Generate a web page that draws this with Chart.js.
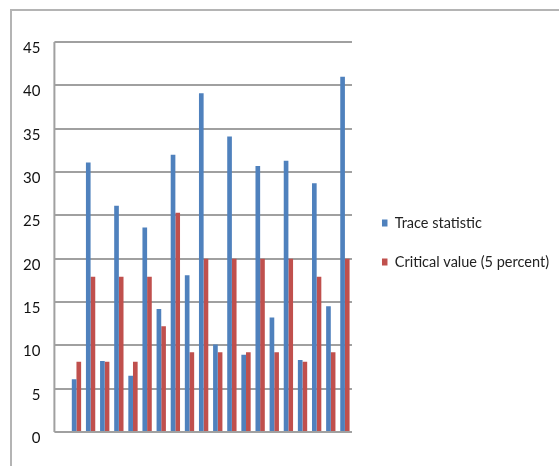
<!DOCTYPE html>
<html>
<head>
<meta charset="utf-8">
<script src="https://cdn.jsdelivr.net/npm/chart.js@4"></script>
<style>
  html, body { margin: 0; padding: 0; background: #fff; }
  #wrap { position: relative; width: 559px; height: 466px; overflow: hidden; }
  #frame { position: absolute; left: 10px; top: 9px; width: 600px; height: 500px; border: 2px solid #b4b4b4; box-sizing: border-box; }
  canvas { position: absolute; left: 0; top: 0; }
</style>
</head>
<body>
<div id="wrap">
  <div id="frame"></div>
  <canvas id="chart" width="559" height="466"></canvas>
</div>
<script>
  // series
  const categories = ['1','2','3','4','5','6','7','8','9','10','11','12','13','14','15','16','17','18','19','20'];
  const traceStatistic = [6.1, 31.1, 8.2, 26.1, 6.5, 23.6, 14.2, 32.0, 18.1, 39.1, 10.1, 34.1, 8.9, 30.7, 13.2, 31.3, 8.3, 28.7, 14.5, 41.0];
  const criticalValue  = [8.1, 17.9, 8.1, 17.9, 8.1, 17.9, 12.2, 25.3, 9.2, 20.0, 9.2, 20.0, 9.2, 20.0, 9.2, 20.0, 8.1, 17.9, 9.2, 20.0];
  const seriesNames = ['Trace statistic', 'Critical value (5 percent)'];
  const yTicks = { min: 0, max: 45, step: 5 };

  const GRID = '#a0a0a0';
  const FONT = "Lato, 'Open Sans', sans-serif";
  const LEG_SIZE = 14.5, LEG_PAD = 24.5, LEG_BOX = 5.5;
  const LEG_LEFT = 359.5;   // where the legend block should start

  // vertical legend width = padding + box + half font + longest text + 10 (Chart.js adds 10)
  const mctx = document.createElement('canvas').getContext('2d');
  mctx.font = `${LEG_SIZE}px ${FONT}`;
  const longest = Math.max(...seriesNames.map(t => mctx.measureText(t).width));
  const legendW = LEG_PAD + LEG_BOX + LEG_SIZE / 2 + longest + 10;
  const padRight = Math.max(0, 559 - LEG_LEFT - legendW);

  // left axis line sits at the outer end of the extended gridlines
  const axisLine = {
    id: 'axisLine',
    beforeDatasetsDraw(chart) {
      const y = chart.scales.y;
      const x = chart.chartArea.left - y.options.grid.tickLength;
      const ctx = chart.ctx;
      ctx.save();
      ctx.strokeStyle = GRID;
      ctx.lineWidth = 2;
      ctx.beginPath();
      ctx.moveTo(x, y.top);
      ctx.lineTo(x, y.bottom);
      ctx.stroke();
      ctx.restore();
    }
  };

  new Chart(document.getElementById('chart').getContext('2d'), {
    type: 'bar',
    data: {
      labels: categories,
      datasets: [
        { label: seriesNames[0], data: traceStatistic, backgroundColor: '#4f81bd', borderWidth: 0,
          barPercentage: 1.0, categoryPercentage: 0.66 },
        { label: seriesNames[1], data: criticalValue, backgroundColor: '#c0504d', borderWidth: 0,
          barPercentage: 1.0, categoryPercentage: 0.66 }
      ]
    },
    options: {
      responsive: false,
      animation: false,
      layout: { padding: { top: 42, bottom: 34, left: 0, right: padRight } },
      plugins: {
        tooltip: { enabled: false },
        legend: {
          position: 'right',
          maxWidth: 400,
          title: { display: true, text: '', font: { size: 7, lineHeight: 1 }, padding: 2 },
          labels: {
            font: { family: FONT, size: LEG_SIZE },
            color: '#222',
            boxWidth: LEG_BOX,
            boxHeight: 7,
            padding: LEG_PAD
          }
        }
      },
      scales: {
        x: { display: false },
        y: {
          min: yTicks.min,
          max: yTicks.max,
          afterFit: s => { s.width = 69.4; },
          ticks: { stepSize: yTicks.step, padding: 14, labelOffset: 6, color: '#111', font: { family: FONT, size: 15 } },
          grid: { color: GRID, lineWidth: 2, drawTicks: true, tickLength: 15, tickColor: GRID },
          border: { display: false }
        },
        y2: {
          position: 'right',
          display: true,
          afterFit: s => { s.width = 5.5; },
          ticks: { display: false },
          grid: { display: false },
          border: { display: false }
        }
      }
    },
    plugins: [axisLine]
  });
</script>
</body>
</html>
